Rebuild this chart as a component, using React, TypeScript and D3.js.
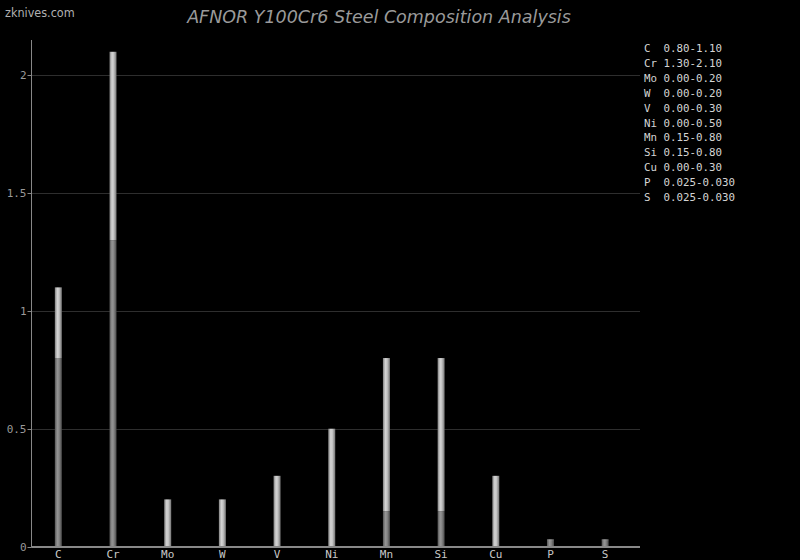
import React from "react";
import * as d3 from "d3";

const elements = ["C", "Cr", "Mo", "W", "V", "Ni", "Mn", "Si", "Cu", "P", "S"];
const minValues = [0.8, 1.3, 0.0, 0.0, 0.0, 0.0, 0.15, 0.15, 0.0, 0.025, 0.025];
const maxValues = [1.1, 2.1, 0.2, 0.2, 0.3, 0.5, 0.8, 0.8, 0.3, 0.03, 0.03];
const rangeLabels = ["0.80-1.10", "1.30-2.10", "0.00-0.20", "0.00-0.20", "0.00-0.30", "0.00-0.50", "0.15-0.80", "0.15-0.80", "0.00-0.30", "0.025-0.030", "0.025-0.030"];
const yTicks = [0, 0.5, 1, 1.5, 2];

const W = 800, H = 560;
const left = 31.5, bottom = 546.5, axisRight = 640;

export default function App() {
  const x = d3.scaleBand<string>().domain(elements).range([31, 632.5]).padding(0);
  const y = d3.scaleLinear().domain([0, 2.15]).range([bottom, 40]);
  const bw = 7;
  const mono = "'DejaVu Sans Mono', monospace";
  return (
    <svg width={W} height={H} style={{ position: "absolute", left: 0, top: 0, background: "#000" }}>
      <defs>
        <linearGradient id="gLight" x1="0" x2="1" y1="0" y2="0">
          <stop offset="0" stopColor="#808080" />
          <stop offset="0.35" stopColor="#d4d4d4" />
          <stop offset="0.6" stopColor="#c4c4c4" />
          <stop offset="1" stopColor="#747474" />
        </linearGradient>
        <linearGradient id="gDark" x1="0" x2="1" y1="0" y2="0">
          <stop offset="0" stopColor="#555" />
          <stop offset="0.35" stopColor="#959595" />
          <stop offset="0.6" stopColor="#878787" />
          <stop offset="1" stopColor="#4a4a4a" />
        </linearGradient>
      </defs>
      <rect x={0} y={0} width={W} height={H} fill="#000" />
      <text x={5} y={17} fill="#b0b0b0" fontSize={12.5} fontFamily="'DejaVu Sans Condensed', 'DejaVu Sans', sans-serif">zknives.com</text>
      <text x={379} y={23} textAnchor="middle" fill="#9a9a9a" fontSize={17.5} fontStyle="italic" fontFamily="'DejaVu Sans', sans-serif">AFNOR Y100Cr6 Steel Composition Analysis</text>
      {yTicks.filter(t => t > 0).map(t => (
        <line key={"g" + t} x1={left} x2={axisRight} y1={Math.round(y(t)) + 0.5} y2={Math.round(y(t)) + 0.5} stroke="#2e2e2e" strokeWidth={1} />
      ))}
      {yTicks.map(t => (
        <g key={"t" + t}>
          <line x1={left - 4} x2={left} y1={Math.round(y(t)) + 0.5} y2={Math.round(y(t)) + 0.5} stroke="#888" />
          <text x={left - 5} y={y(t) + 4} textAnchor="end" fill="#999" fontSize={11} fontFamily={mono}>{t === 0 ? "0" : String(t)}</text>
        </g>
      ))}
      {elements.map((e, i) => {
        const cx = (x(e) as number) + x.bandwidth() / 2;
        const x0 = cx - bw / 2;
        const yMin = y(minValues[i]);
        const yMax = y(maxValues[i]);
        return (
          <g key={e}>
            <rect x={x0} y={yMin} width={bw} height={bottom - yMin} fill="url(#gDark)" />
            <rect x={x0} y={yMax} width={bw} height={yMin - yMax} fill="url(#gLight)" />
            <text x={cx} y={558} textAnchor="middle" fill="#c8c8c8" fontSize={11} fontFamily={mono}>{e}</text>
          </g>
        );
      })}
      <line x1={left} x2={left} y1={40} y2={bottom + 1} stroke="#888" strokeWidth={1} />
      <line x1={left} x2={axisRight} y1={bottom + 0.5} y2={bottom + 0.5} stroke="#888" strokeWidth={2} />
      {elements.map((e, i) => (
        <text key={"l" + e} x={644} y={52 + i * 14.9} fill="#d4d4d4" fontSize={10.8} fontFamily={mono} xmlSpace="preserve" style={{ whiteSpace: "pre" }}>
          {(e + "  ").slice(0, 3) + rangeLabels[i]}
        </text>
      ))}
    </svg>
  );
}
